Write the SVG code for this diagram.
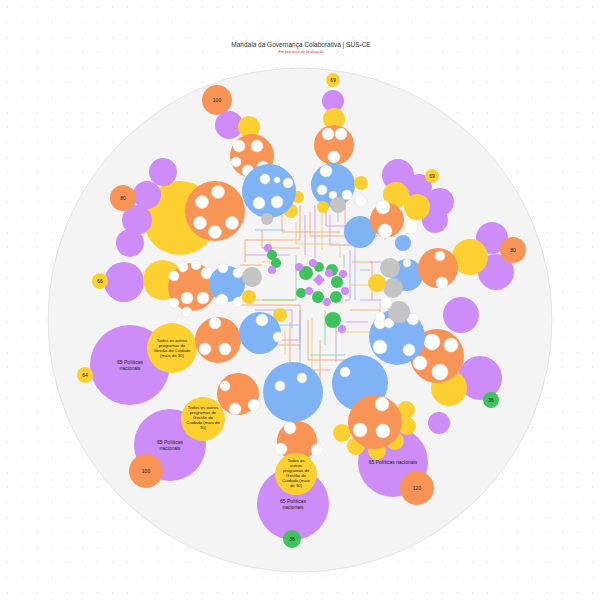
<svg xmlns="http://www.w3.org/2000/svg" width="600" height="600" viewBox="0 0 600 600">
<defs>
<pattern id="dots" width="15" height="15" patternUnits="userSpaceOnUse"><circle cx="7.5" cy="7.5" r="0.6" fill="#d6d6d6"/></pattern>
<style>
.o{fill:#f89455}.y{fill:#fdd032}.p{fill:#cd8cf8}.b{fill:#7fb3f6}.g{fill:#3ec25c}.gr{fill:#c4c4c4}
.w{fill:#fff;stroke:#dcdcdc;stroke-width:0.5}
text{font-family:"Liberation Sans",Arial,sans-serif;fill:#222;text-anchor:middle}
.n{font-size:5px}.l{font-size:4.3px}
.c path{fill:none;stroke-width:0.9}
.co{stroke:#f4a874}.cp{stroke:#cc9bf2}.cy{stroke:#efd070}.cg{stroke:#8fd0a0}.cb{stroke:#9cc0f3}
</style>
</defs>
<rect width="600" height="600" fill="#fff"/>
<rect width="600" height="600" fill="url(#dots)"/>
<circle cx="300" cy="320" r="252" fill="#f4f4f4" stroke="#e4e4e4" stroke-width="1"/>
<text x="301" y="47" style="font-size:6.5px;fill:#333">Mandala da Governança Colaborativa | SUS-CE</text>
<text x="301" y="53" style="font-size:3.7px;fill:#e03a2f">Em processo de finalização</text>

<g id="connectors" class="c">
<path class="co" d="M300,205 V240 H245 V262"/>
<path class="co" d="M310,212 V236 H395"/>
<path class="co" d="M262,230 V248 H300"/>
<path class="co" d="M345,205 V230 H385 V240"/>
<path class="co" d="M240,305 H300 V350"/>
<path class="co" d="M290,322 V370 H330"/>
<path class="co" d="M350,310 H380 V330"/>
<path class="co" d="M320,340 V380"/>
<path class="co" d="M255,345 H300"/>
<path class="co" d="M240,265 H262"/>
<path class="co" d="M352,262 H372 V300"/>
<path class="co" d="M308,320 V360 H350"/>
<path class="co" d="M282,215 V232 H340"/>
<path class="cp" d="M305,215 V255"/>
<path class="cp" d="M315,205 V258"/>
<path class="cp" d="M330,215 V245 H360"/>
<path class="cp" d="M245,255 H290"/>
<path class="cp" d="M360,300 H390"/>
<path class="cp" d="M300,310 V340 H262"/>
<path class="cp" d="M336,315 V362"/>
<path class="cp" d="M370,262 H398"/>
<path class="cp" d="M350,250 V300 H345"/>
<path class="cp" d="M326,208 V226 H372"/>
<path class="cp" d="M255,310 H292 V328"/>
<path class="cp" d="M346,322 H368"/>
<path class="cy" d="M322,212 V250"/>
<path class="cy" d="M255,300 H295"/>
<path class="cy" d="M350,285 H377"/>
<path class="cy" d="M285,330 V355"/>
<path class="cy" d="M340,332 H380 V300"/>
<path class="cy" d="M270,240 V262 H262"/>
<path class="cy" d="M296,222 V244 H340 V258"/>
<path class="cy" d="M312,318 V372"/>
<path class="cg" d="M296,255 V300 H262"/>
<path class="cg" d="M325,310 V345"/>
<path class="cg" d="M310,355 H345"/>
<path class="cg" d="M344,255 V268"/>
<path class="cb" d="M255,230 H285"/>
<path class="cb" d="M355,240 V300"/>
<path class="cb" d="M360,270 H370"/>
<path class="cb" d="M280,325 H300 V365"/>
<path class="cb" d="M338,212 V222"/>
</g>

<g id="n-top69"><circle class="y" cx="333" cy="80" r="7"/><text class="n" x="333" y="81.8">69</text></g>
<g id="n-top-p"><circle class="p" cx="333" cy="101" r="11"/></g>
<g id="n-top-y"><circle class="y" cx="334" cy="119" r="11"/></g>
<g id="n-top-o"><circle class="o" cx="334" cy="145" r="20"/><circle class="w" cx="328" cy="134" r="6"/><circle class="w" cx="341" cy="134" r="6"/><circle class="w" cx="334" cy="157" r="6"/></g>
<g id="n-top-b"><circle class="b" cx="333" cy="185" r="22"/><circle class="w" cx="326" cy="171" r="6"/><circle class="w" cx="322" cy="190" r="5"/><circle class="w" cx="333" cy="195" r="4"/><circle class="w" cx="347" cy="195" r="5"/></g>
<g id="n-top-s"><circle class="y" cx="361" cy="183" r="7"/><circle class="gr" cx="338" cy="205" r="8"/><circle class="w" cx="361" cy="201" r="6"/><circle class="y" cx="323" cy="207" r="6"/><circle class="y" cx="298" cy="197" r="6"/><circle class="y" cx="291" cy="211" r="7"/></g>

<g id="n-ul100"><circle class="o" cx="217" cy="100" r="15"/><text class="n" x="217" y="101.8">100</text></g>
<g id="n-ul-p"><circle class="p" cx="229" cy="125" r="14"/></g>
<g id="n-ul-y"><circle class="y" cx="249" cy="127" r="11"/></g>
<g id="n-ul-o"><circle class="o" cx="252" cy="156" r="22"/><circle class="w" cx="239" cy="146" r="6"/><circle class="w" cx="257" cy="146" r="6"/><circle class="w" cx="236" cy="162" r="5"/><circle class="w" cx="248" cy="171" r="6"/><circle class="w" cx="263" cy="167" r="6"/></g>
<g id="n-ul-b"><circle class="b" cx="269" cy="191" r="27"/><circle class="w" cx="265" cy="179" r="5"/><circle class="w" cx="277" cy="180" r="3"/><circle class="w" cx="288" cy="183" r="5"/><circle class="w" cx="259" cy="203" r="6"/><circle class="w" cx="277" cy="202" r="6"/></g>
<g id="n-ul-gr"><circle class="gr" cx="267" cy="219" r="6"/></g>

<g id="n-l-y"><circle class="y" cx="180" cy="218" r="37"/></g>
<g id="n-l-p"><circle class="p" cx="163" cy="172" r="14"/><circle class="p" cx="147" cy="195" r="14"/><circle class="p" cx="137" cy="220" r="15"/><circle class="p" cx="130" cy="243" r="14"/></g>
<g id="n-l80"><circle class="o" cx="123" cy="198" r="13"/><text class="n" x="123" y="199.8">80</text></g>
<g id="n-l-o"><circle class="o" cx="215" cy="211" r="30"/><circle class="w" cx="218" cy="192" r="6.5"/><circle class="w" cx="202" cy="202" r="6.5"/><circle class="w" cx="200" cy="223" r="6.5"/><circle class="w" cx="215" cy="232" r="6.5"/><circle class="w" cx="232" cy="223" r="6.5"/></g>

<g id="n-lm-p"><circle class="p" cx="124" cy="282" r="20"/></g>
<g id="n-lm66"><circle class="y" cx="100" cy="281" r="8"/><text class="n" x="100" y="282.8">66</text></g>
<g id="n-lm-y"><circle class="y" cx="163" cy="280" r="20"/></g>
<g id="n-lm-o"><circle class="o" cx="192" cy="287" r="24"/><circle class="w" cx="183" cy="267" r="5"/><circle class="w" cx="196" cy="265" r="5"/><circle class="w" cx="174" cy="276" r="5"/><circle class="w" cx="207" cy="273" r="6"/><circle class="w" cx="187" cy="298" r="6"/><circle class="w" cx="203" cy="298" r="6"/><circle class="w" cx="187" cy="312" r="5"/><circle class="w" cx="174" cy="303" r="5"/></g>
<g id="n-lm-b"><circle class="b" cx="227" cy="284" r="18"/><circle class="w" cx="223" cy="268" r="5"/><circle class="w" cx="238" cy="273" r="5"/><circle class="w" cx="222" cy="300" r="6"/><circle class="w" cx="238" cy="302" r="5"/></g>
<g id="n-lm-s"><circle class="gr" cx="252" cy="277" r="10"/><circle class="y" cx="249" cy="297" r="7"/><circle class="y" cx="280" cy="315" r="7"/></g>

<g id="n-ll-p"><circle class="p" cx="130" cy="365" r="40"/><text class="n" x="130" y="364">65 Políticas</text><text class="n" x="130" y="370">nacionais</text></g>
<g id="n-ll64"><circle class="y" cx="85" cy="375" r="8"/><text class="n" x="85" y="376.8">64</text></g>
<g id="n-ll-y"><circle class="y" cx="172" cy="348" r="25"/><text class="l" x="172" y="342">Todos os outros</text><text class="l" x="172" y="347">programas de</text><text class="l" x="172" y="352">Gestão do Cuidado</text><text class="l" x="172" y="357">(mais de 30)</text></g>
<g id="n-ll-o"><circle class="o" cx="218" cy="340" r="23"/><circle class="w" cx="215" cy="323" r="6"/><circle class="w" cx="205" cy="349" r="6"/><circle class="w" cx="225" cy="349" r="6"/></g>
<g id="n-ll-b"><circle class="b" cx="260" cy="333" r="21"/><circle class="w" cx="262" cy="320" r="6"/><circle class="w" cx="278" cy="337" r="5"/></g>
<g id="n-ll-o2"><circle class="o" cx="238" cy="394" r="21"/><circle class="w" cx="225" cy="386" r="5"/><circle class="w" cx="235" cy="409" r="6"/><circle class="w" cx="254" cy="405" r="6"/></g>
<g id="n-ll2-p"><circle class="p" cx="170" cy="445" r="36"/><text class="n" x="170" y="444">65 Políticas</text><text class="n" x="170" y="450">nacionais</text></g>
<g id="n-ll2-y"><circle class="y" cx="203" cy="419" r="22"/><text class="l" x="203" y="409">Todos os outros</text><text class="l" x="203" y="414">programas de</text><text class="l" x="203" y="419">Gestão do</text><text class="l" x="203" y="424">Cuidado (mais de</text><text class="l" x="203" y="429">30)</text></g>
<g id="n-ll100"><circle class="o" cx="146" cy="471" r="17"/><text class="n" x="146" y="472.8">100</text></g>

<g id="n-b-b"><circle class="b" cx="293" cy="392" r="30"/><circle class="w" cx="280" cy="386" r="5"/><circle class="w" cx="302" cy="378" r="5"/></g>
<g id="n-b-p"><circle class="p" cx="293" cy="504" r="36"/><text class="n" x="293" y="503">65 Políticas</text><text class="n" x="293" y="509">nacionais</text></g>
<g id="n-b-o"><circle class="o" cx="297" cy="441" r="20"/><circle class="w" cx="290" cy="428" r="6"/><circle class="w" cx="281" cy="449" r="6"/><circle class="w" cx="317" cy="450" r="6"/></g>
<g id="n-b-y"><circle class="y" cx="296" cy="474" r="21"/><text class="l" x="296" y="462">Todos os</text><text class="l" x="296" y="467">outros</text><text class="l" x="296" y="472">programas de</text><text class="l" x="296" y="477">Gestão do</text><text class="l" x="296" y="482">Cuidado (mais</text><text class="l" x="296" y="487">de 30)</text></g>
<g id="n-b36"><circle class="g" cx="292" cy="539" r="9"/><text class="n" x="292" y="540.8">36</text></g>

<g id="n-lr-p"><circle class="p" cx="393" cy="462" r="35"/><text class="n" x="393" y="463.5">65 Políticas nacionais</text></g>
<g id="n-lr120"><circle class="o" cx="417" cy="488" r="17"/><text class="n" x="417" y="489.8">120</text></g>
<g id="n-lr-ys"><circle class="y" cx="342" cy="433" r="9"/><circle class="y" cx="356" cy="446" r="9"/><circle class="y" cx="377" cy="451" r="9"/><circle class="y" cx="395" cy="441" r="9"/><circle class="y" cx="407" cy="426" r="9"/><circle class="y" cx="406" cy="410" r="9"/></g>
<g id="n-lr-b"><circle class="b" cx="360" cy="383" r="28"/><circle class="w" cx="345" cy="372" r="5"/></g>
<g id="n-lr-o"><circle class="o" cx="375" cy="422" r="27"/><circle class="w" cx="382" cy="404" r="7"/><circle class="w" cx="360" cy="430" r="7"/><circle class="w" cx="383" cy="431" r="7"/></g>
<g id="n-lr-sp"><circle class="p" cx="439" cy="423" r="11"/></g>

<g id="n-r-p1"><circle class="p" cx="461" cy="315" r="18"/></g>
<g id="n-r-p2"><circle class="p" cx="480" cy="378" r="22"/></g>
<g id="n-r-y"><circle class="y" cx="449" cy="388" r="18"/></g>
<g id="n-r36"><circle class="g" cx="491" cy="400" r="8"/><text class="n" x="491" y="401.8">36</text></g>
<g id="n-r-o"><circle class="o" cx="437" cy="356" r="27"/><circle class="w" cx="432" cy="342" r="8"/><circle class="w" cx="451" cy="345" r="7"/><circle class="w" cx="420" cy="363" r="7"/><circle class="w" cx="440" cy="372" r="8"/></g>
<g id="n-r-b"><circle class="b" cx="397" cy="337" r="28"/><circle class="w" cx="380" cy="323" r="6"/><circle class="w" cx="389" cy="323" r="5"/><circle class="w" cx="413" cy="319" r="6"/><circle class="w" cx="380" cy="347" r="7"/><circle class="w" cx="409" cy="350" r="6"/></g>
<g id="n-r-s"><circle class="gr" cx="399" cy="312" r="11"/><circle class="w" cx="386" cy="303" r="6"/><circle class="w" cx="380" cy="317" r="5"/></g>

<g id="n-ur-p"><circle class="p" cx="398" cy="175" r="16"/><circle class="p" cx="419" cy="187" r="13"/><circle class="p" cx="440" cy="202" r="14"/><circle class="p" cx="435" cy="220" r="13"/></g>
<g id="n-ur69"><circle class="y" cx="432" cy="176" r="7"/><text class="n" x="432" y="177.8">69</text></g>
<g id="n-ur-y"><circle class="y" cx="396" cy="195" r="13"/><circle class="y" cx="417" cy="207" r="13"/></g>
<g id="n-ur-b0"><circle class="b" cx="360" cy="232" r="16"/></g>
<g id="n-ur-o"><circle class="o" cx="387" cy="220" r="17"/><circle class="w" cx="383" cy="207" r="7"/><circle class="w" cx="385" cy="231" r="7"/><circle class="w" cx="411" cy="227" r="7"/></g>
<g id="n-ur-bs"><circle class="b" cx="403" cy="243" r="8"/></g>
<g id="n-ur-b"><circle class="b" cx="407" cy="275" r="16"/><circle class="w" cx="407" cy="263" r="4"/></g>
<g id="n-ur-s"><circle class="gr" cx="390" cy="268" r="10"/><circle class="gr" cx="393" cy="288" r="10"/><circle class="y" cx="377" cy="283" r="9"/></g>
<g id="n-ur-p2"><circle class="p" cx="492" cy="238" r="16"/><circle class="p" cx="496" cy="272" r="18"/></g>
<g id="n-ur-y2"><circle class="y" cx="470" cy="257" r="18"/></g>
<g id="n-ur80"><circle class="o" cx="513" cy="250" r="13"/><text class="n" x="513" y="251.8">80</text></g>
<g id="n-ur-o2"><circle class="o" cx="438" cy="268" r="20"/><circle class="w" cx="440" cy="256" r="5"/><circle class="w" cx="442" cy="283" r="6"/></g>

<g id="n-c1"><circle class="p" cx="268" cy="248" r="4"/><circle class="g" cx="272" cy="255" r="5"/><circle class="g" cx="276" cy="263" r="5"/><circle class="p" cx="272" cy="270" r="4"/></g>
<g id="n-core">
<circle class="g" cx="306" cy="273" r="7"/><circle class="g" cx="319" cy="267" r="5"/><circle class="g" cx="332" cy="270" r="6"/><circle class="g" cx="337" cy="282" r="6"/><circle class="g" cx="336" cy="297" r="6"/><circle class="g" cx="318" cy="297" r="6"/><circle class="g" cx="301" cy="293" r="5"/>
<circle class="p" cx="299" cy="267" r="4"/><circle class="p" cx="313" cy="263" r="4"/><circle class="p" cx="329" cy="273" r="4"/><circle class="p" cx="343" cy="274" r="4"/><circle class="p" cx="345" cy="291" r="4"/><circle class="p" cx="327" cy="302" r="4"/><circle class="p" cx="309" cy="291" r="4"/>
<path class="p" d="M319,274 L325,280 L319,286 L313,280 Z"/>
</g>
<g id="n-c2"><circle class="g" cx="333" cy="320" r="8"/><circle class="p" cx="342" cy="329" r="4"/></g>
</svg>
